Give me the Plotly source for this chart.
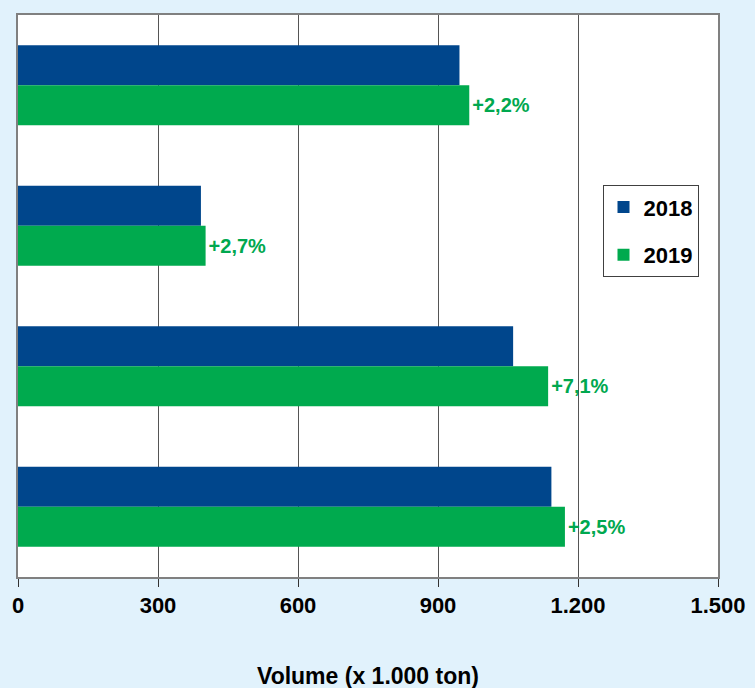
import plotly.graph_objects as go

categories = ["A", "B", "C", "D"]
values_2018 = [946, 392, 1061, 1143]
values_2019 = [967, 402, 1136, 1172]
change_labels = ["+2,2%", "+2,7%", "+7,1%", "+2,5%"]
tick_values = [0, 300, 600, 900, 1200, 1500]
tick_labels = ["0", "300", "600", "900", "1.200", "1.500"]

BLUE = "#00468C"
GREEN = "#00AA4E"
FONT = "Liberation Sans, Arial, sans-serif"

fig = go.Figure()
fig.add_trace(go.Bar(
    y=categories, x=values_2018, orientation="h", name="2018",
    marker=dict(color=BLUE, line=dict(width=0)), legendgroup="a",
))
fig.add_trace(go.Bar(
    y=categories, x=values_2019, orientation="h", name="2019",
    marker=dict(color=GREEN, line=dict(width=0)), legendgroup="b",
    text=change_labels, textposition="outside", cliponaxis=False,
    textfont=dict(color="#00A84F", size=20, family=FONT, weight="bold"),
))

fig.update_layout(
    width=755, height=688,
    paper_bgcolor="#E1F2FC", plot_bgcolor="white",
    margin=dict(l=18, r=37, t=15, b=111, autoexpand=False),
    barmode="group", bargap=0.43, bargroupgap=0,
    font=dict(family=FONT, color="black"),
    showlegend=True,
    legend=dict(
        x=0.835, y=0.697, xanchor="left", yanchor="top",
        bgcolor="white", bordercolor="#404040", borderwidth=1,
        font=dict(size=22, family=FONT, weight="bold"),
        traceorder="grouped", tracegroupgap=16,
        itemwidth=30,
    ),
    xaxis=dict(
        range=[0, 1500], tickvals=tick_values, ticktext=tick_labels,
        showgrid=True, gridcolor="#555555", gridwidth=1,
        showline=True, linecolor="#808080", linewidth=2, mirror=True,
        ticks="outside", ticklen=8, tickcolor="#333333", tickwidth=1,
        tickfont=dict(size=22, family=FONT, weight="bold"),
        automargin=False,
        zeroline=False,
    ),
    yaxis=dict(
        categoryorder="array", categoryarray=categories, autorange="reversed",
        showticklabels=False, ticks="", showgrid=False, automargin=False,
        showline=True, linecolor="#808080", linewidth=2, mirror=True,
    ),
    annotations=[dict(
        text="Volume (x 1.000 ton)", xref="paper", yref="paper",
        x=0.5, y=-0.176, xanchor="center", yanchor="middle", showarrow=False,
        font=dict(size=23, family=FONT, weight="bold", color="black"),
    )],
)

fig.write_html("out.html", config={"displayModeBar": False},
               post_script="document.body.style.margin='0';")
